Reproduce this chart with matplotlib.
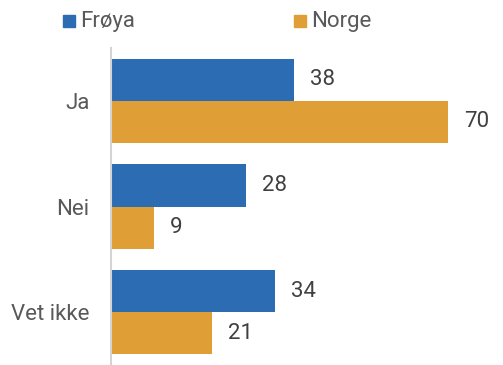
import matplotlib
matplotlib.use("Agg")
import matplotlib.pyplot as plt

categories = ["Ja", "Nei", "Vet ikke"]
series_names = ["Frøya", "Norge"]
froya = [38, 28, 34]
norge = [70, 9, 21]

colors = ["#2b6cb3", "#e09e37"]
text_color = "#404040"
plt.rcParams["font.family"] = ["Roboto", "DejaVu Sans"]

W, H, DPI = 503, 365, 100
fig = plt.figure(figsize=(W / DPI, H / DPI), dpi=DPI)
ax_left, ax_right, ax_top, ax_bottom = 110.5, 503, 48, 365
ax = fig.add_axes([ax_left / W, 1 - ax_bottom / H,
                   (ax_right - ax_left) / W, (ax_bottom - ax_top) / H])

bar_h = 0.4
ypos = list(range(len(categories)))
for vals, c, off in [(froya, colors[0], -bar_h / 2),
                     (norge, colors[1], bar_h / 2)]:
    ys = [y + off for y in ypos]
    ax.barh(ys, vals, height=bar_h, color=c, edgecolor="none")
    for y, v in zip(ys, vals):
        ax.annotate(str(v), xy=(v, y), xytext=(11.5, 0), textcoords="offset points",
                    ha="left", va="center", fontsize=16, color=text_color)

ax.set_xlim(0, 81.3)
ax.set_ylim(2.5, -0.5)
ax.set_yticks(ypos)
ax.set_yticklabels(categories, fontsize=16, color="#595959")
ax.tick_params(axis="y", length=0, pad=15)
ax.set_xticks([])
for s in ["top", "right", "bottom"]:
    ax.spines[s].set_visible(False)
ax.spines["left"].set_color("#d4d4d4")
ax.spines["left"].set_linewidth(1.5)

# legend entries placed across the top
for name, c, x in [(series_names[0], colors[0], 63), (series_names[1], colors[1], 294)]:
    fig.patches.append(plt.Rectangle((x / W, 1 - 27 / H), 12 / W, 12 / H,
                                     transform=fig.transFigure, color=c))
    fig.text((x + 17) / W, 1 - 21 / H, name, ha="left", va="center",
             fontsize=16, color="#595959")

fig.savefig("out.png", dpi=DPI)
